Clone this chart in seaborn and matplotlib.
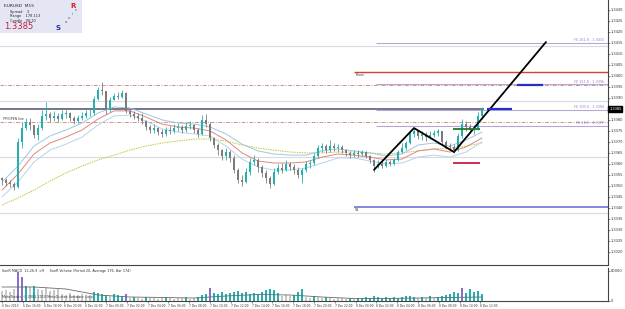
import numpy as np
import pandas as pd
import seaborn as sns
import matplotlib.pyplot as plt

# prices are kept in pips above this base
base = 1.3300

open_first = 53.5
close_pips = [52.7, 51.3, 50.9, 49.5, 70.0, 76.3, 79.0, 77.7, 73.1, 76.3,
              81.8, 82.7, 80.9, 81.8, 80.4, 82.7, 83.1, 80.9, 79.5, 80.9,
              81.8, 83.1, 83.1, 89.5, 93.6, 93.1, 84.5, 89.0, 90.9, 90.4,
              92.2, 84.1, 82.7, 81.8, 80.9, 79.5, 76.8, 75.4, 76.3, 74.5,
              73.6, 75.4, 75.0, 76.3, 76.8, 75.4, 77.2, 77.7, 75.4, 73.6,
              80.0, 78.1, 71.8, 68.6, 66.3, 63.6, 65.4, 62.7, 57.2, 52.7,
              51.8, 56.3, 60.9, 61.8, 58.6, 55.9, 53.6, 50.9, 56.3, 58.1,
              57.2, 60.0, 58.6, 57.2, 55.0, 57.2, 60.0, 60.4, 63.6, 67.2,
              68.1, 66.3, 68.1, 67.2, 67.7, 66.3, 65.0, 64.0, 65.0, 64.5,
              65.4, 63.6, 61.8, 59.0, 60.0, 59.0, 60.9, 60.0, 61.8, 65.4,
              67.2, 69.5, 73.6, 75.0, 72.7, 73.6, 72.2, 73.1, 74.0, 75.0,
              70.0, 68.1, 67.7, 66.3, 72.7, 78.1, 76.8, 75.4, 76.3, 81.8,
              85.0]
high_pips = [54.0, 53.6, 52.7, 51.8, 71.8, 79.0, 80.9, 80.9, 77.7, 78.1,
             84.5, 88.1, 83.6, 84.1, 83.1, 84.5, 84.5, 83.6, 81.8, 82.2,
             83.6, 84.5, 85.0, 90.9, 95.0, 97.2, 91.8, 90.4, 92.2, 92.7,
             93.6, 92.7, 85.0, 84.1, 83.1, 83.1, 80.0, 77.7, 78.1, 76.8,
             75.9, 76.8, 77.2, 78.1, 78.6, 77.7, 79.0, 79.5, 78.1, 76.3,
             82.2, 82.7, 79.0, 72.2, 69.5, 66.8, 67.2, 66.3, 64.0, 58.1,
             55.0, 58.1, 62.7, 64.0, 62.7, 59.5, 57.2, 54.5, 58.1, 60.0,
             60.4, 61.8, 60.9, 60.0, 58.6, 58.1, 61.3, 61.8, 65.0, 68.6,
             69.5, 69.0, 70.9, 69.5, 69.0, 68.6, 66.8, 65.9, 66.3, 66.3,
             66.3, 65.9, 64.0, 62.2, 61.8, 61.3, 62.2, 61.8, 62.7, 66.3,
             69.5, 70.4, 75.0, 76.3, 75.4, 75.0, 74.5, 75.0, 75.4, 75.9,
             74.5, 70.9, 69.5, 69.0, 74.0, 80.4, 79.5, 78.1, 77.7, 83.6,
             85.9]
low_pips = [50.5, 50.0, 49.5, 48.1, 49.0, 67.2, 75.4, 75.4, 71.8, 70.9,
            75.4, 80.0, 79.0, 79.5, 79.0, 80.0, 80.9, 79.5, 78.1, 78.6,
            80.0, 80.9, 81.8, 82.2, 89.0, 91.3, 82.7, 83.6, 89.0, 89.5,
            90.0, 83.1, 81.3, 80.4, 79.5, 78.1, 75.4, 74.0, 74.0, 73.1,
            72.2, 72.7, 73.6, 74.0, 75.0, 74.0, 74.5, 75.9, 74.0, 72.2,
            73.1, 76.8, 70.4, 67.2, 64.0, 61.8, 61.8, 60.9, 55.9, 51.3,
            50.0, 51.3, 55.0, 59.5, 56.3, 54.0, 51.3, 49.0, 50.5, 55.4,
            55.9, 56.8, 57.2, 55.4, 53.6, 51.3, 56.3, 58.1, 59.5, 62.7,
            65.4, 65.0, 65.4, 65.9, 65.4, 65.0, 63.6, 62.7, 63.1, 63.1,
            63.6, 62.7, 60.4, 56.3, 58.1, 58.1, 58.6, 59.0, 59.5, 61.3,
            65.0, 66.3, 69.0, 72.2, 71.3, 70.9, 70.4, 71.3, 72.2, 72.7,
            68.6, 66.8, 66.3, 65.0, 65.9, 71.8, 75.0, 74.0, 73.6, 75.4,
            80.4]

# moving averages, read every 4th bar
ma_bars = list(range(0, 121, 4))
ma_upper = [51.8, 59.0, 68.1, 72.7, 75.4, 78.6, 83.1, 85.9, 85.4, 82.7, 80.0,
            78.6, 78.1, 76.8, 73.6, 69.0, 65.9, 64.5, 64.0, 64.0, 65.9, 66.8,
            65.9, 65.0, 63.6, 64.5, 68.6, 69.5, 68.1, 70.9, 74.5]
ma_mid = [48.1, 55.4, 64.5, 69.5, 72.2, 75.4, 80.4, 84.1, 84.1, 81.3, 78.1,
          76.8, 76.3, 75.0, 70.9, 65.0, 61.3, 60.4, 60.4, 60.9, 63.1, 64.5,
          64.0, 63.1, 61.8, 62.2, 65.9, 66.8, 65.4, 67.7, 71.8]
ma_lower = [45.0, 51.8, 60.9, 66.3, 69.0, 72.2, 77.7, 81.8, 82.2, 79.5, 75.9,
            74.5, 73.6, 72.7, 68.1, 62.2, 58.6, 57.2, 57.2, 58.1, 60.4, 62.7,
            62.7, 61.3, 60.0, 60.4, 63.1, 64.0, 63.1, 65.4, 70.0]
ma_slow = [41.3, 44.5, 48.1, 52.2, 55.9, 59.0, 61.8, 64.0, 66.3, 68.1, 69.5,
           70.4, 71.3, 71.3, 70.4, 68.6, 67.2, 66.3, 65.4, 65.0, 65.0, 65.4,
           65.4, 65.0, 64.5, 65.0, 65.9, 66.8, 67.2, 68.1, 69.5]

volume = [1000, 1100, 900, 1200, 2900, 2400, 1500, 1400, 1500, 1200,
          1100, 1300, 1000, 1100, 1200, 700, 600, 800, 500, 600,
          700, 500, 600, 900, 800, 700, 600, 500, 700, 600,
          500, 700, 300, 400, 300, 200, 400, 300, 300, 200,
          300, 400, 300, 200, 300, 300, 400, 200, 300, 400,
          600, 700, 1300, 800, 700, 900, 700, 800, 900, 1000,
          800, 900, 700, 800, 700, 900, 1100, 1200, 1100, 800,
          500, 600, 500, 600, 900, 1200, 400, 300, 500, 400,
          300, 400, 300, 200, 300, 300, 200, 300, 200, 300,
          300, 400, 300, 500, 400, 300, 400, 300, 400, 300,
          400, 500, 500, 400, 300, 400, 300, 500, 300, 400,
          500, 600, 700, 900, 800, 1300, 800, 1200, 900, 1000,
          700]
climax_bars = [4, 5, 31, 52, 115]
avg_bars = list(range(0, 121, 8))
avg_volume = [1400, 1400, 1200, 600, 400, 350, 300, 500, 650, 600, 400,
              250, 250, 300, 350, 400]

date_labels = ["6 Dec 2010", "6 Dec 16:00", "6 Dec 18:00", "6 Dec 20:00",
               "6 Dec 22:00", "7 Dec 00:00", "7 Dec 02:00", "7 Dec 04:00",
               "7 Dec 06:00", "7 Dec 08:00", "7 Dec 10:00", "7 Dec 12:00",
               "7 Dec 14:00", "7 Dec 16:00", "7 Dec 18:00", "7 Dec 20:00",
               "7 Dec 22:00", "8 Dec 00:00", "8 Dec 02:00", "8 Dec 04:00",
               "8 Dec 06:00", "8 Dec 08:00", "8 Dec 10:00", "8 Dec 12:00"]

# zigzag swing points (bar, pips) and the expansion ratios
swing_bars = [93, 103, 113]
swing_pips = [57.3, 76.3, 65.4]
fe_ratios = [61.8, 100.0, 161.8, 261.8]
target_bar, target_pips = 136, 115.4

pivot_pips = 101.8
s1_pips = 40.4
grey_levels = [113.5, 88.5, 63.0, 37.5]
dashdot_levels = [95.9, 79.0]
last_line_pips = 85.0

def px(p):
    return base + np.asarray(p) / 1e4

df = pd.DataFrame({"open": [open_first] + close_pips[:-1], "high": high_pips,
                   "low": low_pips, "close": close_pips})
df = base + df / 1e4
df["bar"] = np.arange(len(df))
up = df["close"] >= df["open"]

sns.set_theme(style="white")
plt.rcParams["font.family"] = ["DejaVu Sans"]

fig = plt.figure(figsize=(6.25, 3.09), dpi=100)
ax = fig.add_axes([0.0, 1 - 265 / 309, 608 / 625, 265 / 309])
vax = fig.add_axes([0.0, 1 - 301 / 309, 608 / 625, 33 / 309], sharex=ax)

bull, bear = "#25b0b0", "#7c7c7c"
XMAX = 151.5

# background levels
for lv in grey_levels:
    ax.axhline(px(lv), color="#d9d9e2", lw=0.8, zorder=1)
for lv in dashdot_levels:
    ax.axhline(px(lv), color="#c99484", lw=0.7, ls=(0, (4, 1.5, 1, 1.5)), zorder=1)
ax.hlines(px(last_line_pips), -0.5, 120.5, color="#5c5c7a", lw=1.2, zorder=2)

# moving averages
sns.lineplot(x=ma_bars, y=px(ma_slow), ax=ax, color="#c8c23a", lw=0.7,
             linestyle=(0, (1.5, 1)), zorder=2)
sns.lineplot(x=ma_bars, y=px(ma_upper), ax=ax, color="#9fc6e6", lw=0.7, zorder=2)
sns.lineplot(x=ma_bars, y=px(ma_mid), ax=ax, color="#e0877a", lw=0.7, zorder=2)
sns.lineplot(x=ma_bars, y=px(ma_lower), ax=ax, color="#b6d3ea", lw=0.7, zorder=2)

# candles
colors = np.where(up, bull, bear)
ax.vlines(df["bar"], df["low"], df["high"], colors=colors, lw=0.6, zorder=3)
body = (df["close"] - df["open"]).abs().clip(lower=0.00002)
ax.bar(df["bar"], body, bottom=df[["open", "close"]].min(axis=1), width=0.55,
       color=colors, lw=0, zorder=4)

# pivot / support
ax.hlines(px(pivot_pips), 88, XMAX, color="#d2442f", lw=1.0, zorder=2)
ax.text(88.3, px(pivot_pips) - 0.00005, "Pivot", fontsize=2.6, va="top", color="#333")
ax.hlines(px(s1_pips), 88, XMAX, color="#7272d6", lw=1.2, zorder=2)
ax.text(88.3, px(s1_pips) - 0.00005, "S1", fontsize=2.6, va="top", color="#333")

# fibonacci expansion
a, b, c = swing_pips
for r in fe_ratios:
    lv = c + r / 100 * (b - a)
    ax.hlines(px(lv), 93.5, XMAX, color="#b9a5d8", lw=0.8, zorder=2)
    ax.text(150.6, px(lv) + 0.00004, "FE %.1f - %.4f" % (r, px(lv)), fontsize=2.4,
            ha="right", va="bottom", color="#9a7fc8")
ax.plot(swing_bars + [target_bar], px(swing_pips + [target_pips]), color="black",
        lw=1.3, zorder=6)

# trade marks
ax.hlines(px(75.9), 112.8, 119.5, color="#237a2a", lw=1.3, zorder=6)
ax.hlines(px(60.4), 112.8, 119.5, color="#c8203c", lw=1.3, zorder=6)
ax.hlines(px(85.0), 121.3, 127.5, color="#2430c8", lw=1.6, zorder=6)
ax.hlines(px(95.9), 128.8, 135.3, color="#2430c8", lw=1.6, zorder=6)

ax.text(0.2, px(79.0) + 0.00004, "PP/OPEN line", fontsize=2.3, va="bottom", color="#444")

# axes styling
ax.set_xlim(-0.5, XMAX)
ax.set_ylim(px(14.05), px(134.5))
ax.yaxis.tick_right()
yt = np.arange(1.3320, 1.34305, 0.0005)
last_price = float(px(last_line_pips))
ax.set_yticks(yt)
# the last-price box sits on top of its own tick
ax.set_yticklabels(["" if abs(t - last_price) < 1e-6 else "%.4f" % t for t in yt])
ax.tick_params(axis="y", labelsize=2.6, length=1.2, width=0.4, pad=0.8,
               colors="#333", right=True)
ax.tick_params(axis="x", bottom=False, labelbottom=False)
for s in ["top", "left"]:
    ax.spines[s].set_visible(False)
for s in ["right", "bottom"]:
    ax.spines[s].set_color("#444")
    ax.spines[s].set_linewidth(0.8)
ax.text(1.002, last_price, "%.4f" % last_price, transform=ax.get_yaxis_transform(),
        fontsize=2.6, color="white", va="center", ha="left",
        bbox=dict(boxstyle="square,pad=0.2", fc="black", ec="black"))

# volume pane
avg_each = np.interp(np.arange(len(volume)), avg_bars, avg_volume)
vcol = ["#8a6fc8" if i in climax_bars else (bull if v > avg_each[i] else "#c8c8c8")
        for i, v in enumerate(volume)]
vax.bar(np.arange(len(volume)), volume, width=0.45, color=vcol, lw=0)
sns.lineplot(x=avg_bars, y=avg_volume, ax=vax, color="#6a6a6a", lw=0.6)
vax.set_ylim(0, 3300)
vax.yaxis.tick_right()
vax.set_yticks([0, 3000])
vax.set_yticklabels(["0", "80000"])
vax.tick_params(axis="y", labelsize=2.6, length=1.2, width=0.4, pad=0.8, colors="#333")
tick_pos = np.arange(len(date_labels)) * 5.2
vax.set_xticks(tick_pos)
vax.set_xticklabels(date_labels, ha="left")
vax.tick_params(axis="x", labelsize=2.1, length=1.5, width=0.4, pad=0.5,
                colors="#333", bottom=True)
for s in ["top", "left"]:
    vax.spines[s].set_visible(False)
for s in ["right", "bottom"]:
    vax.spines[s].set_color("#444")
    vax.spines[s].set_linewidth(0.8)
vax.text(0.003, 0.97, "SonR MACD  12,26,9  off     SonR Volume (Period 20, Average 176, Bar 174)",
         transform=vax.transAxes, fontsize=2.4, va="top", color="#333")
vax.text(0.003, 0.05, "MetaTrader, \u00a9 2001-2010 MetaQuotes Software Corp.",
         transform=vax.transAxes, fontsize=2.4, va="bottom", color="#333")

# info panel top left
info = fig.add_axes([0.0, 1 - 33 / 309, 82 / 625, 33 / 309])
info.set_facecolor("#e4e6f3")
info.set_xticks([])
info.set_yticks([])
for s in info.spines.values():
    s.set_visible(False)
info.text(0.05, 0.88, "EURUSD  M15", fontsize=3.2, va="top", color="#222")
info.text(0.12, 0.70, "Spread    3\nRange    178.113\nCandle   08:10", fontsize=2.5,
          va="top", color="#222", linespacing=1.1)
info.text(0.05, 0.05, "1.3385", fontsize=6, color="#c0203a", va="bottom")
info.text(0.86, 0.92, "R", fontsize=5, color="#d02020", va="top", fontweight="bold")
info.text(0.68, 0.05, "S", fontsize=5, color="#2030a0", va="bottom", fontweight="bold")
for k, ch in enumerate("onic"):
    info.text(0.79 + k * 0.04, 0.30 + k * 0.12, ch, fontsize=2.8, color="#555")

fig.savefig("out.png", dpi=100)
